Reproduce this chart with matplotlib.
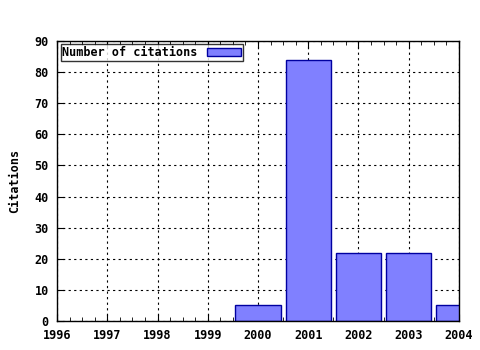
import matplotlib
matplotlib.use('Agg')
import matplotlib.pyplot as plt
from matplotlib.ticker import MultipleLocator

years = [2000, 2001, 2002, 2003, 2004]
citations = [5, 84, 22, 22, 5]
xticks = list(range(1996, 2005))
yticks = list(range(0, 100, 10))

plt.rcParams['font.family'] = 'DejaVu Sans Mono'
plt.rcParams['font.weight'] = 'bold'
plt.rcParams['axes.labelweight'] = 'bold'
plt.rcParams['font.size'] = 8.5

fig = plt.figure(figsize=(4.8, 3.5), dpi=100)
ax = fig.add_axes([0.119, 0.083, 0.837, 0.8])

ax.bar(years, citations, width=0.9, color='#8080ff', edgecolor='#0000a0',
       linewidth=1, label='Number of citations', zorder=3)

ax.set_xlim(1996, 2004)
ax.set_ylim(0, 90)
ax.set_xticks(xticks)
ax.set_yticks(yticks)
ax.xaxis.set_minor_locator(MultipleLocator(0.25))
ax.tick_params(axis='x', which='both', direction='in', top=True, bottom=True, pad=6)
ax.tick_params(axis='x', which='major', length=5)
ax.tick_params(axis='x', which='minor', length=3)
ax.tick_params(axis='y', direction='in', length=5, left=True, right=False, pad=6)
ax.grid(True, linestyle=(0, (2, 3)), color='black', linewidth=0.8, zorder=0)
for s in ax.spines.values():
    s.set_linewidth(1)
    s.set_zorder(5)

ax.set_ylabel('Citations', labelpad=10)

leg = ax.legend(loc='upper left', frameon=True, fancybox=False, borderpad=0.15,
                handlelength=2.9, handleheight=0.6, borderaxespad=0.3,
                markerfirst=False, handletextpad=0.8)
leg.get_frame().set_edgecolor('black')
leg.get_frame().set_linewidth(1)

fig.savefig('out.png', dpi=100)
